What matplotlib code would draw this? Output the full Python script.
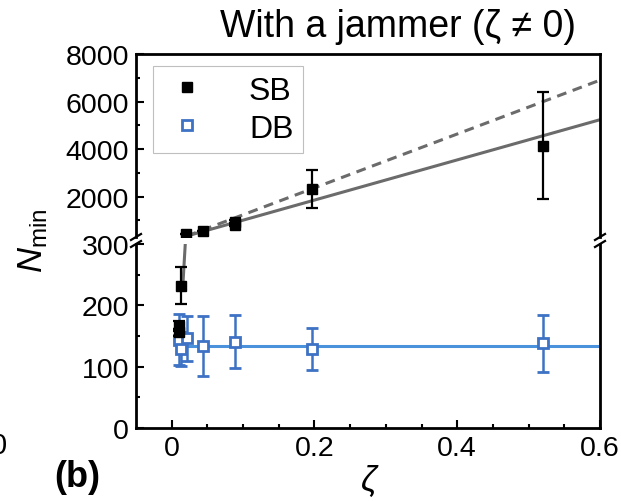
import matplotlib
matplotlib.use('Agg')
import matplotlib.pyplot as plt
from matplotlib.lines import Line2D

plt.rcParams['font.family'] = ['Liberation Sans', 'DejaVu Sans']
plt.rcParams['mathtext.fontset'] = 'custom'
plt.rcParams['mathtext.it'] = 'Liberation Sans:italic'
plt.rcParams['mathtext.rm'] = 'Liberation Sans'

# SB (single barrier), filled squares
sb_x = [0.010, 0.010, 0.0135, 0.0205, 0.044, 0.088, 0.089, 0.196, 0.52]
sb_y = [166, 156, 232, 420, 565, 950, 800, 2320, 4150]
sb_err = [8, 6, 30, 0, 0, 60, 50, 790, 2260]

# DB (double barrier), open squares
db_x = [0.010, 0.0135, 0.021, 0.044, 0.089, 0.196, 0.52]
db_y = [144, 129, 146, 133, 141, 129, 138]
db_err = [42, 28, 37, 49, 43, 34, 46]

# fit lines
solid_x = [0.016, 0.021, 0.6]
solid_y = [240, 340, 5235]
dash_x = [0.021, 0.6]
dash_y = [340, 6900]
db_fit_x = [0.010, 0.6]
db_fit_y = [134, 134]

BREAK = 300
BLUE = '#3d72c4'
BLUE_LINE = '#4a93dc'
GRAY = '#6b6b6b'

W, H = 621, 502
fig = plt.figure(figsize=(W / 100, H / 100), dpi=100)
left, right = 136, 600
ax_lo = fig.add_axes([left / W, 1 - 429 / H, (right - left) / W, (429 - 245) / H])
ax_hi = fig.add_axes([left / W, 1 - 238 / H, (right - left) / W, (238 - 55) / H])


def pick(xs, ys, es, keep):
    idx = [i for i in range(len(xs)) if keep(ys[i], es[i])]
    return [xs[i] for i in idx], [ys[i] for i in idx], [es[i] for i in idx]


# lower panel: points that reach below the break; upper: points above it
lo_sb = pick(sb_x, sb_y, sb_err, lambda y, e: y - e < BREAK)
hi_sb = pick(sb_x, sb_y, sb_err, lambda y, e: y + e > BREAK)
lo_db = pick(db_x, db_y, db_err, lambda y, e: y - e < BREAK)

for ax, sb, db in ((ax_lo, lo_sb, lo_db), (ax_hi, hi_sb, None)):
    if db is not None:
        ax.plot(db_fit_x, db_fit_y, color=BLUE_LINE, lw=2.2, zorder=1)
        ax.errorbar(db[0], db[1], yerr=db[2], fmt='s', ms=7.5, mfc='white', mec=BLUE,
                    mew=2.0, ecolor=BLUE, elinewidth=1.8, capsize=4, capthick=1.8, zorder=3)
    ax.plot(solid_x, solid_y, color=GRAY, lw=2.2, zorder=2)
    ax.plot(dash_x, dash_y, color=GRAY, lw=2.2, dashes=(3.2, 2.2), zorder=2)
    ax.errorbar(sb[0], sb[1], yerr=sb[2], fmt='s', ms=6.5, color='black',
                ecolor='black', elinewidth=1.6, capsize=4, capthick=1.6, zorder=4)
    ax.set_xlim(-0.05, 0.6)
    for s in ax.spines.values():
        s.set_linewidth(2.0)
    ax.tick_params(which='both', direction='in', width=1.5, labelsize=20.5,
                   top=False, right=False, pad=5)
    ax.tick_params(which='major', length=6)
    ax.tick_params(which='minor', length=3)

ax_lo.set_ylim(0, BREAK)
ax_lo.set_yticks([0, 100, 200, 300])
ax_lo.set_yticks([50, 150, 250], minor=True)
ax_lo.set_xticks([0, 0.2, 0.4, 0.6])
ax_lo.set_xticklabels(['0', '0.2', '0.4', '0.6'])
ax_lo.set_xticks([0.05, 0.1, 0.15, 0.25, 0.3, 0.35, 0.45, 0.5, 0.55], minor=True)
ax_lo.spines['top'].set_visible(False)

ax_hi.set_ylim(BREAK, 8000)
ax_hi.set_yticks([2000, 4000, 6000, 8000])
ax_hi.set_yticks([1000, 3000, 5000, 7000], minor=True)
ax_hi.set_xticks([])
ax_hi.set_xticks([], minor=True)
ax_hi.spines['bottom'].set_visible(False)

# break marks on both side spines
for xp in (left, right):
    for yp in (238, 245):
        fig.add_artist(Line2D([(xp - 5) / W, (xp + 5) / W],
                              [1 - (yp + 3) / H, 1 - (yp - 3) / H],
                              transform=fig.transFigure, color='black', lw=1.6))

handles = [
    Line2D([], [], ls='none', marker='s', ms=6.5, color='black'),
    Line2D([], [], ls='none', marker='s', ms=6.5, mfc='white', mec=BLUE, mew=2.0),
]
leg = ax_hi.legend(handles, ['SB', 'DB'], loc='upper left', bbox_to_anchor=(0.037, 0.934),
                   fontsize=23, frameon=True, fancybox=False, borderpad=0.3,
                   handlelength=1.5, handletextpad=1.2, labelspacing=0.25,
                   borderaxespad=0)
leg.get_frame().set_edgecolor('#b0b0b0')
leg.get_frame().set_linewidth(0.8)

fig.text(398 / W, 1 - 27 / H, 'With a jammer (ζ ≠ 0)', fontsize=27,
         ha='center', va='center')
fig.text(33 / W, 1 - 241 / H, r'$N_{\mathrm{min}}$', fontsize=25, rotation=90,
         ha='center', va='center')
fig.text(369 / W, 1 - 482 / H, 'ζ', fontsize=25, style='italic',
         ha='center', va='center')
fig.text(77 / W, 1 - 478 / H, '(b)', fontsize=26, fontweight='bold',
         ha='center', va='center')
fig.text(7 / W, 1 - 446 / H, '0', fontsize=21, ha='right', va='center')

fig.savefig('out.png', dpi=100)
